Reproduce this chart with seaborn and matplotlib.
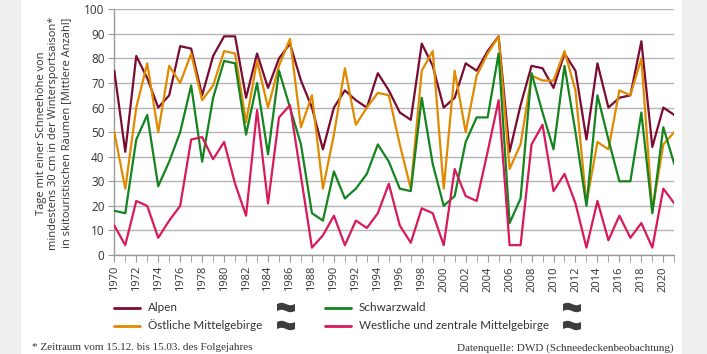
import numpy as np
import pandas as pd
import seaborn as sns
import matplotlib.pyplot as plt
from matplotlib.lines import Line2D
from matplotlib.patches import Polygon, Rectangle

# Daten
jahre = list(range(1970, 2022))
alpen = [75, 42, 81, 72, 60, 65, 85, 84, 65, 81,
         89, 89, 64, 82, 68, 80, 86, 71, 60, 43,
         60, 67, 63, 60, 74, 67, 58, 55, 86, 77,
         60, 64, 78, 75, 83, 89, 42, 61, 77, 76,
         68, 82, 75, 47, 78, 60, 64, 65, 87, 44,
         60, 57]
oestlich = [50, 27, 60, 78, 50, 77, 70, 82, 63, 69,
            83, 82, 54, 79, 60, 77, 88, 52, 65, 27,
            49, 76, 53, 60, 66, 65, 45, 27, 75, 83,
            27, 75, 50, 73, 82, 89, 35, 45, 73, 71,
            71, 83, 67, 21, 46, 43, 67, 65, 80, 18,
            45, 50]
schwarzwald = [18, 17, 47, 57, 28, 38, 50, 69, 38, 64,
               79, 78, 49, 70, 41, 75, 60, 45, 17, 14,
               34, 23, 27, 33, 45, 38, 27, 26, 64, 37,
               20, 24, 46, 56, 56, 82, 13, 23, 74, 58,
               43, 77, 50, 20, 65, 47, 30, 30, 58, 17,
               52, 37]
westlich = [12, 4, 22, 20, 7, 14, 20, 47, 48, 39,
            46, 29, 16, 59, 21, 56, 61, 32, 3, 8,
            16, 4, 14, 11, 17, 29, 12, 5, 19, 17,
            4, 35, 24, 22, 42, 63, 4, 4, 45, 53,
            26, 33, 21, 3, 22, 6, 16, 7, 13, 3,
            27, 21]

regionen = ["Alpen", "Östliche Mittelgebirge", "Schwarzwald",
            "Westliche und zentrale Mittelgebirge"]
farben = ["#7a0b33", "#e08a00", "#13841f", "#d8195c"]

df = pd.DataFrame({
    "Jahr": jahre * 4,
    "Wert": alpen + oestlich + schwarzwald + westlich,
    "Region": np.repeat(regionen, len(jahre)),
})

sns.set_style("white")
plt.rcParams["font.family"] = ["Open Sans", "DejaVu Sans"]

W, H = 707, 354
fig = plt.figure(figsize=(W / 100, H / 100), dpi=100, facecolor="#efefef")
# weisses Panel
fig.patches.append(Rectangle((21 / W, 0), (682 - 21) / W, 1, transform=fig.transFigure,
                             facecolor="white", edgecolor="none", zorder=-10))

ax = fig.add_axes([114.3 / W, (H - 255) / H, 560 / W, (255 - 9.3) / H])
ax.set_facecolor("none")

sns.lineplot(data=df, x="Jahr", y="Wert", hue="Region", palette=farben,
             hue_order=regionen, linewidth=1.6, legend=False, ax=ax, zorder=3)

ax.set_xlim(1970, 2021)
ax.set_ylim(0, 100)
ax.set_yticks(range(0, 101, 10))
ax.set_xticks(range(1970, 2021, 2))
ax.set_xticks(range(1970, 2022), minor=True)
ax.tick_params(axis="x", which="both", length=5, color="#999999", labelrotation=90,
               labelsize=8, labelcolor="#333333", pad=3, direction="out", bottom=True)
ax.tick_params(axis="y", length=4, color="#999999", labelsize=8.5, labelcolor="#333333",
               pad=3, left=True)
ax.yaxis.grid(True, color="#b4b4b4", linewidth=1)
ax.set_axisbelow(True)
for s in ["top", "right"]:
    ax.spines[s].set_visible(False)
for s in ["left", "bottom"]:
    ax.spines[s].set_color("#999999")
    ax.spines[s].set_linewidth(1)
ax.set_xlabel("")
ax.set_ylabel("")

fig.text(54 / W, 1 - 133 / H,
         "Tage mit einer Schneehöhe von\nmindestens 30 cm in der Wintersportsaison*\n"
         "in skitouristischen Räumen [Mittlere Anzahl]",
         rotation=90, ha="center", va="center", multialignment="center",
         fontsize=8, color="#333333", linespacing=1.2)

# Legende
def px(x, y):
    return x / W, 1 - y / H

def welle(x0, y0, w=18, h=7):
    t = np.linspace(0, 1, 24)
    oben = [px(x0 + w * ti, y0 - h / 2 - 1.2 * np.sin(2 * np.pi * ti)) for ti in t]
    unten = [px(x0 + w * ti, y0 + h / 2 - 1.2 * np.sin(2 * np.pi * ti)) for ti in t[::-1]]
    fig.patches.append(Polygon(oben + unten, closed=True, transform=fig.transFigure,
                               facecolor="#3d3d3d", edgecolor="none"))

eintraege = [
    (regionen[0], farben[0], 114, 307.5, 277),
    (regionen[1], farben[1], 114, 325.5, 277),
    (regionen[2], farben[2], 325, 307.5, 563),
    (regionen[3], farben[3], 325, 325.5, 563),
]
for name, farbe, x0, y0, xi in eintraege:
    fig.lines.append(Line2D([px(x0, y0)[0], px(x0 + 26, y0)[0]], [px(x0, y0)[1]] * 2,
                            transform=fig.transFigure, color=farbe, linewidth=2))
    fig.text(*px(x0 + 34, y0), name, ha="left", va="center", fontsize=8.4,
             color="#333333", family="Lato")
    welle(xi, y0)

fig.text(*px(32, 348), "* Zeitraum vom 15.12. bis 15.03. des Folgejahres",
         ha="left", va="center", fontsize=8, color="#333333", family="Liberation Serif")
fig.text(*px(674, 348), "Datenquelle: DWD (Schneedeckenbeobachtung)",
         ha="right", va="center", fontsize=8, color="#333333", family="Liberation Serif")

fig.savefig("out.png", dpi=100, facecolor=fig.get_facecolor())
